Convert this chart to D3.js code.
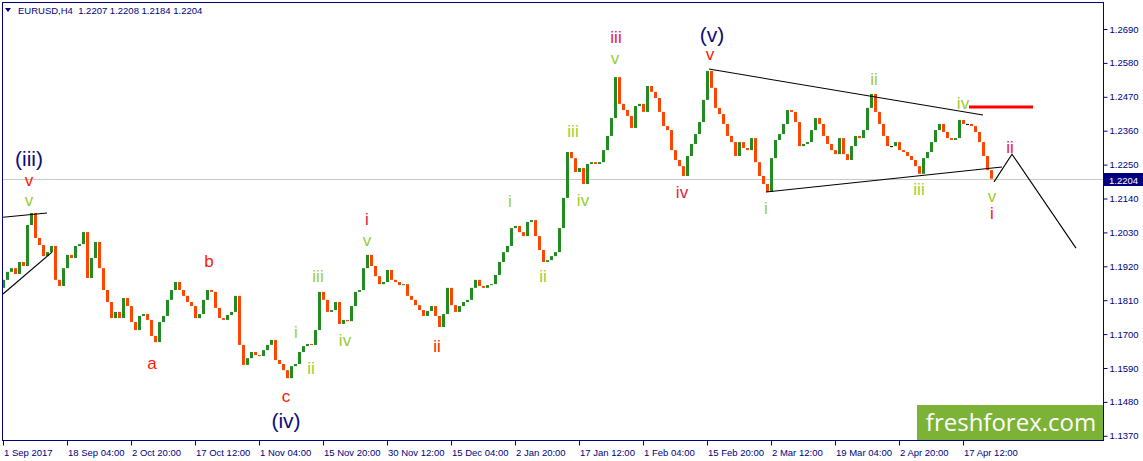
<!DOCTYPE html>
<html>
<head>
<meta charset="utf-8">
<script src="https://cdn.jsdelivr.net/npm/d3@7"></script>
<style>
    body { margin: 0; background: #fff; }
    svg { display: block; }
</style>
</head>
<body>
<svg id="chart" width="1143" height="461"></svg>
<script>
// EURUSD H4, one value per 4 bars (close of each group)
const closes = [
    1.1876, 1.1902, 1.1914, 1.1895, 1.1934, 1.1921, 1.2054, 1.2093, 1.2012, 1.1989,
    1.1953, 1.1966, 1.1986, 1.1876, 1.1856, 1.1914, 1.1957, 1.1947, 1.1986, 1.1992,
    1.2031, 1.1882, 1.1947, 1.1999, 1.1914, 1.1843, 1.1804, 1.1752, 1.1772, 1.1752,
    1.1817, 1.1791, 1.1739, 1.1713, 1.1759, 1.1765, 1.1746, 1.1694, 1.1674, 1.1739,
    1.1759, 1.1811, 1.1843, 1.1869, 1.1843, 1.1824, 1.1804, 1.1791, 1.1752, 1.1765,
    1.1811, 1.1843, 1.1837, 1.1785, 1.1752, 1.1746, 1.1762, 1.1772, 1.1824, 1.1665,
    1.1600, 1.1622, 1.1642, 1.1632, 1.1629, 1.1648, 1.1665, 1.1681, 1.1616, 1.1603,
    1.1583, 1.1557, 1.1596, 1.1603, 1.1642, 1.1661, 1.1668, 1.1665, 1.1713, 1.1837,
    1.1811, 1.1772, 1.1778, 1.1804, 1.1733, 1.1746, 1.1742, 1.1791, 1.1837, 1.1843,
    1.1914, 1.1957, 1.1921, 1.1888, 1.1862, 1.1869, 1.1908, 1.1876, 1.1869, 1.1859,
    1.1862, 1.1824, 1.1811, 1.1794, 1.1778, 1.1759, 1.1775, 1.1791, 1.1759, 1.1723,
    1.1765, 1.1850, 1.1794, 1.1772, 1.1791, 1.1804, 1.1811, 1.1850, 1.1876, 1.1856,
    1.1850, 1.1859, 1.1862, 1.1892, 1.1934, 1.1966, 1.1986, 1.2044, 1.2051, 1.2031,
    1.2018, 1.2064, 1.2070, 1.2018, 1.1973, 1.1934, 1.1940, 1.1953, 1.1966, 1.2044,
    1.2142, 1.2291, 1.2271, 1.2226, 1.2239, 1.2187, 1.2252, 1.2258, 1.2252, 1.2258,
    1.2297, 1.2343, 1.2401, 1.2534, 1.2447, 1.2427, 1.2408, 1.2369, 1.2440, 1.2447,
    1.2421, 1.2505, 1.2486, 1.2466, 1.2421, 1.2375, 1.2362, 1.2297, 1.2265, 1.2245,
    1.2213, 1.2278, 1.2317, 1.2349, 1.2388, 1.2460, 1.2554, 1.2499, 1.2434, 1.2414,
    1.2382, 1.2343, 1.2323, 1.2278, 1.2323, 1.2304, 1.2297, 1.2336, 1.2258, 1.2213,
    1.2187, 1.2161, 1.2271, 1.2330, 1.2349, 1.2382, 1.2427, 1.2421, 1.2388, 1.2310,
    1.2317, 1.2323, 1.2362, 1.2401, 1.2382, 1.2343, 1.2317, 1.2297, 1.2284, 1.2336,
    1.2284, 1.2265, 1.2310, 1.2343, 1.2336, 1.2362, 1.2434, 1.2479, 1.2421, 1.2382,
    1.2343, 1.2310, 1.2310, 1.2323, 1.2297, 1.2291, 1.2278, 1.2265, 1.2245, 1.2220,
    1.2271, 1.2291, 1.2323, 1.2362, 1.2382, 1.2356, 1.2336, 1.2330, 1.2336, 1.2395,
    1.2382, 1.2382, 1.2375, 1.2356, 1.2323, 1.2278, 1.2232, 1.2204
];
const firstOpen = 1.1850;
const barsPerPoint = 4;

const priceTicks = [1.2690, 1.2580, 1.2470, 1.2360, 1.2250, 1.2140, 1.2030,
    1.1920, 1.1810, 1.1700, 1.1590, 1.1480, 1.1370];
const timeLabels = ["1 Sep 2017", "18 Sep 04:00", "2 Oct 20:00", "17 Oct 12:00",
    "1 Nov 04:00", "15 Nov 20:00", "30 Nov 12:00", "15 Dec 04:00", "2 Jan 20:00",
    "17 Jan 12:00", "1 Feb 04:00", "15 Feb 20:00", "2 Mar 12:00", "19 Mar 04:00",
    "2 Apr 20:00", "17 Apr 12:00"];
const barsPerTimeLabel = 64;

const headerText = "EURUSD,H4  1.2207 1.2208 1.2184 1.2204";
const lastPrice = 1.2204;

// analyst drawings, [bar, price]
const trendLines = [
    [[0, 1.2079], [44, 1.2093]],
    [[0, 1.1830], [49, 1.1966]],
    [[706, 1.2560], [980, 1.2411]],
    [[763, 1.2161], [999, 1.2242]]
];
const forecastPath = [[991, 1.2194], [1009, 1.2284], [1073, 1.1979]];
const resistanceLevel = [[966, 1.2437], [1030, 1.2437]];

// wave labels: bar, price, text, degree
const waveLabels = [
    [26, 1.2271, "(iii)", "primary"],
    [26, 1.2200, "v", "minute"],
    [26, 1.2132, "v", "minuette"],
    [149, 1.1603, "a", "minute"],
    [206, 1.1934, "b", "minute"],
    [283, 1.1499, "c", "minute"],
    [283, 1.1421, "(iv)", "primary"],
    [293, 1.1704, "i", "minuette"],
    [308, 1.1590, "ii", "minuette"],
    [315, 1.1888, "iii", "minuette"],
    [342, 1.1678, "iv", "minuette"],
    [364, 1.2073, "i", "minute2"],
    [364, 1.2005, "v", "minuette"],
    [434, 1.1661, "ii", "minute"],
    [507, 1.2129, "i", "minuette"],
    [540, 1.1888, "ii", "minuette"],
    [570, 1.2359, "iii", "minuette"],
    [580, 1.2132, "iv", "minuette"],
    [612, 1.2593, "v", "minuette"],
    [613, 1.2664, "iii", "minute2"],
    [679, 1.2161, "iv", "minute2"],
    [709, 1.2671, "(v)", "primary"],
    [707, 1.2606, "v", "minute"],
    [763, 1.2109, "i", "minuette"],
    [871, 1.2525, "ii", "minuette"],
    [916, 1.2168, "iii", "minuette"],
    [960, 1.2447, "iv", "minuette"],
    [1007, 1.2304, "ii", "minute2"],
    [989, 1.2145, "v", "minuette"],
    [989, 1.2090, "i", "minute"]
];

const labelStyle = {
    primary: { color: "#0c0c7a", size: 21 },
    minute: { color: "#ff1a00", size: 17 },
    minute2: { color: "#e81a40", size: 17 },
    minuette: { color: "#9acd32", size: 17 }
};

const svg = d3.select("#chart");
const plot = { left: 2.5, right: 1103.5, top: 2.5, bottom: 440.5 };
const navy = "#000080";
const font = "'Liberation Sans', Arial, sans-serif";

const x = d3.scaleLinear().domain([0, 1100]).range([3, 1103]);
const y = d3.scaleLinear().domain([1.1370, 1.2690]).range([435.8, 29]);

svg.append("defs").append("clipPath").attr("id", "plotClip")
    .append("rect")
    .attr("x", plot.left).attr("y", plot.top)
    .attr("width", plot.right - plot.left).attr("height", plot.bottom - plot.top);

const inner = svg.append("g").attr("clip-path", "url(#plotClip)");

// last price line
inner.append("line")
    .attr("x1", plot.left).attr("x2", plot.right)
    .attr("y1", Math.round(y(lastPrice)) + 0.5).attr("y2", Math.round(y(lastPrice)) + 0.5)
    .style("stroke", "#c8c8c8");

// candles
const candles = closes.map((c, i) => ({
    bar: i * barsPerPoint,
    open: i ? closes[i - 1] : firstOpen,
    close: c
}));

inner.append("g").selectAll("rect")
    .data(candles)
    .join("rect")
    .attr("x", (d) => x(d.bar) - 1)
    .attr("width", 3)
    .attr("y", (d) => y(Math.max(d.open, d.close)))
    .attr("height", (d) => Math.max(1, Math.abs(y(d.open) - y(d.close))))
    .style("fill", (d) =>
        d.close > d.open ? "#228b22" : d.close < d.open ? "#ff4500" : "#000"
    );

// drawings
const line = d3.line((d) => x(d[0]), (d) => y(d[1]));

inner.append("g").selectAll("path")
    .data([...trendLines, forecastPath])
    .join("path")
    .attr("d", line)
    .style("fill", "none")
    .style("stroke", "#000")
    .style("stroke-width", 1.1);

inner.append("path")
    .datum(resistanceLevel)
    .attr("d", line)
    .style("stroke", "#ff0000")
    .style("stroke-width", 3);

// watermark
svg.append("rect")
    .attr("x", 917).attr("y", 405)
    .attr("width", 186).attr("height", 35)
    .style("fill", "#7cb236");
svg.append("text")
    .attr("x", 1011).attr("y", 431)
    .attr("text-anchor", "middle")
    .style("font-family", "'Open Sans', sans-serif")
    .style("font-size", "24px")
    .style("fill", "#fff")
    .text("freshforex.com");

// wave labels
svg.append("g").selectAll("text")
    .data(waveLabels)
    .join("text")
    .attr("x", (d) => x(d[0]))
    .attr("y", (d) => y(d[1]))
    .attr("text-anchor", "middle")
    .attr("dominant-baseline", "central")
    .style("font-family", font)
    .style("font-size", (d) => labelStyle[d[3]].size + "px")
    .style("fill", (d) => labelStyle[d[3]].color)
    .text((d) => d[2]);

// frame
svg.append("rect")
    .attr("x", plot.left).attr("y", plot.top)
    .attr("width", plot.right - plot.left).attr("height", plot.bottom - plot.top)
    .style("fill", "none")
    .style("stroke", navy);

// price axis
const yAxis = d3.axisRight(y)
    .tickValues(priceTicks)
    .tickSize(4)
    .tickPadding(2)
    .tickFormat(d3.format(".4f"));

svg.append("g")
    .attr("transform", `translate(${plot.right}, 0)`)
    .call(yAxis)
    .call((g) => g.select(".domain").remove())
    .call((g) => g.selectAll("line").style("stroke", navy))
    .call((g) =>
        g.selectAll("text")
            .style("font-family", font)
            .style("font-size", "9.5px")
            .style("fill", navy)
    );

// last price tag
const tagY = Math.round(y(lastPrice));
svg.append("rect")
    .attr("x", plot.right + 0.5).attr("y", tagY - 6)
    .attr("width", 39).attr("height", 13)
    .style("fill", navy);
svg.append("text")
    .attr("x", 1109).attr("y", tagY + 1)
    .attr("dominant-baseline", "central")
    .style("font-family", font)
    .style("font-size", "9.5px")
    .style("fill", "#fff")
    .text(d3.format(".4f")(lastPrice));

// time axis
const xAxis = d3.axisBottom(x)
    .tickValues(timeLabels.map((_, i) => i * barsPerTimeLabel))
    .tickSize(5)
    .tickFormat((d) => timeLabels[d / barsPerTimeLabel]);

svg.append("g")
    .attr("transform", `translate(0, ${plot.bottom})`)
    .call(xAxis)
    .call((g) => g.select(".domain").remove())
    .call((g) => g.selectAll("line").style("stroke", navy))
    .call((g) =>
        g.selectAll("text")
            .attr("text-anchor", "start")
            .attr("dx", 0.5)
            .attr("y", 9)
            .style("font-family", font)
            .style("font-size", "9.5px")
            .style("fill", navy)
    );

// header
svg.append("path")
    .attr("d", "M5,8 L11,8 L8,12 Z")
    .style("fill", navy);
svg.append("text")
    .attr("x", 18).attr("y", 14)
    .attr("xml:space", "preserve")
    .style("white-space", "pre")
    .style("font-family", font)
    .style("font-size", "9.5px")
    .style("fill", navy)
    .text(headerText);
</script>
</body>
</html>
